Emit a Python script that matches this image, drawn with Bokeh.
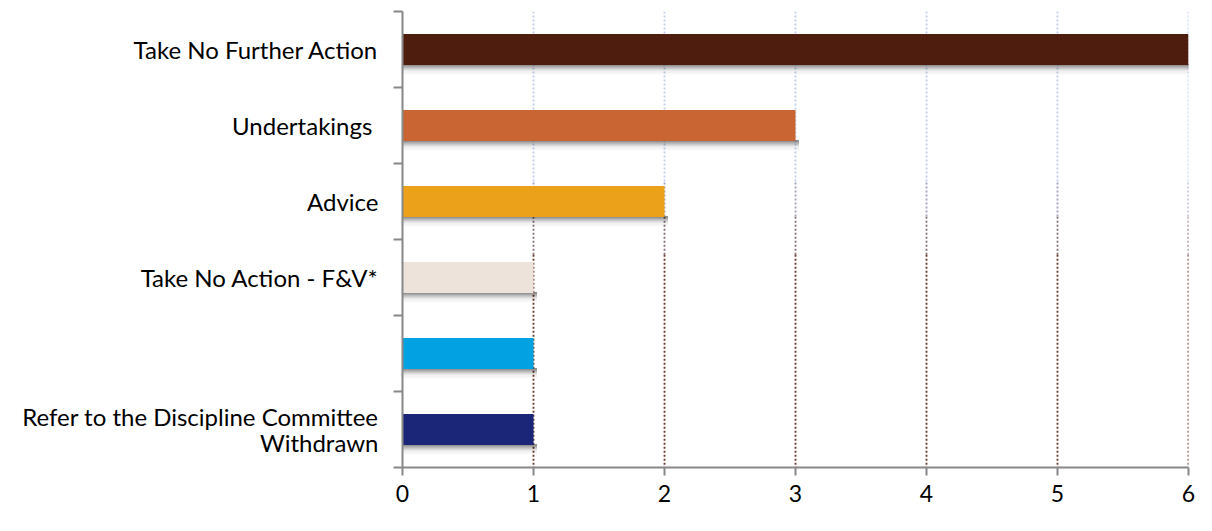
from bokeh.plotting import figure
from bokeh.models import FixedTicker, Range1d, ColumnDataSource
from bokeh.embed import file_html
from bokeh.resources import INLINE

# ---- data ----
categories = ["Take No Further Action", "Undertakings ", "Advice",
              "Take No Action - F&V*", "", "Refer to the Discipline Committee\nWithdrawn"]
counts = [6, 3, 2, 1, 1, 1]
bar_colors = ["#4f1d0e", "#c96532", "#eca11b", "#eee3da", "#02a1e1", "#1b2678"]
x_ticks = [0, 1, 2, 3, 4, 5, 6]

n = len(categories)
centers = [n - i - 0.5 for i in range(n)]
boundaries = list(range(n + 1))
bar_h = 0.41

FONT = "Lato"

p = figure(width=1196, height=515, output_backend="svg", toolbar_location=None,
           x_range=Range1d(0, 6), y_range=Range1d(0, n),
           min_border_left=402, min_border_right=8, min_border_top=11, min_border_bottom=48)
p.outline_line_color = None
p.background_fill_color = "white"
p.border_fill_color = "white"
p.xgrid.visible = False
p.ygrid.visible = False

# ---- dotted gridlines with colour transition (blue top -> brown bottom) ----
grid_x = [t for t in x_ticks if t > 0]
grid_pieces = [(6.0, 3.75, "#c0cdee"), (3.75, 3.3, "#a0a2c0"), (3.3, 2.8, "#85707a"),
               (2.8, 0.0, "#6a3828")]
for top, bot, col in grid_pieces:
    p.segment(x0=grid_x, y0=[top] * len(grid_x), x1=grid_x, y1=[bot] * len(grid_x),
              line_color=col, line_width=1.8, line_dash="2 2")

# ---- bar shadows ----
px = 1.0 / 76.0
for k, a in [(1, 0.12), (2, 0.10), (3, 0.08), (4, 0.07), (5, 0.05), (6, 0.04), (8, 0.03), (10, 0.02)]:
    p.quad(left=[0] * n, right=[c + 3.5 / 131.0 for c in counts],
           top=[y - bar_h / 2 + px for y in centers],
           bottom=[y - bar_h / 2 - k * px for y in centers],
           fill_color="black", fill_alpha=a, line_color=None)

# ---- bars ----
src = ColumnDataSource(dict(y=centers, v=counts, c=bar_colors))
p.hbar(y="y", left=0, right="v", height=bar_h, fill_color="c", line_color=None, source=src)

# ---- axes ----
xa = p.xaxis[0]
xa.ticker = FixedTicker(ticks=x_ticks, minor_ticks=[])
xa.axis_line_color = "#888888"
xa.axis_line_width = 2
xa.major_tick_line_color = "#888888"
xa.major_tick_line_width = 2
xa.major_tick_in = 0
xa.major_tick_out = 8
xa.minor_tick_line_color = None
xa.major_label_text_font = FONT
xa.major_label_text_font_size = "23px"
xa.major_label_text_color = "#000000"
xa.major_label_standoff = 9

ya = p.yaxis[0]
ya.ticker = FixedTicker(ticks=centers, minor_ticks=boundaries)
ya.major_label_overrides = {c: lab for c, lab in zip(centers, categories)}
ya.axis_line_color = "#888888"
ya.axis_line_width = 2
ya.major_tick_line_color = None
ya.major_tick_in = 0
ya.major_tick_out = 0
ya.minor_tick_line_color = "#888888"
ya.minor_tick_line_width = 2
ya.minor_tick_in = 0
ya.minor_tick_out = 9
ya.major_label_standoff = 15
ya.major_label_text_font = FONT
ya.major_label_text_font_size = "24px"
ya.major_label_text_line_height = 0.9
ya.major_label_text_color = "#000000"

open("out.html", "w").write(file_html(p, INLINE))
